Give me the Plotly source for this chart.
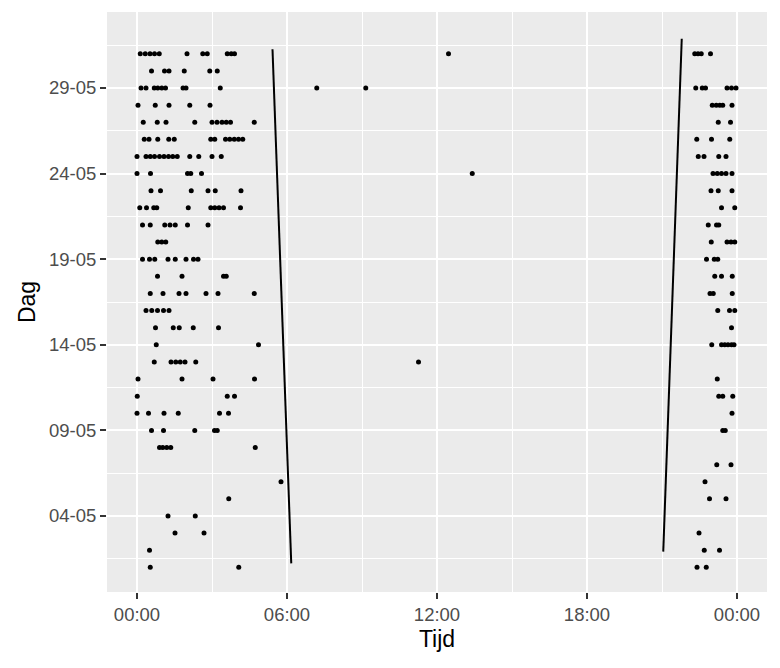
import plotly.graph_objects as go

# ---- data ----
dagen = list(range(1, 32))
uren = [
    [0.53, 4.07, 22.40, 22.77],
    [0.50, 22.69, 23.30],
    [1.52, 2.68, 22.48],
    [1.24, 2.33],
    [3.67, 22.90, 23.56],
    [5.76, 22.72],
    [23.19, 23.76],
    [0.90, 1.03, 1.19, 1.35, 4.73],
    [0.58, 1.06, 2.31, 3.10, 3.21, 23.43, 23.53],
    [0.00, 0.46, 1.08, 1.65, 3.30, 3.66, 23.80],
    [0.01, 3.61, 3.90, 23.27, 23.43, 23.83],
    [0.04, 1.80, 3.04, 4.70, 23.21],
    [0.69, 1.36, 1.55, 1.73, 1.92, 2.35, 11.26],
    [0.77, 4.86, 22.99, 23.38, 23.51, 23.64, 23.78, 23.88],
    [0.74, 1.45, 1.69, 2.25, 3.26, 23.78],
    [0.36, 0.59, 0.82, 1.06, 1.28, 23.23, 23.70, 23.91],
    [0.53, 1.04, 1.68, 1.96, 2.76, 3.24, 4.69, 22.92, 23.05, 23.81],
    [0.82, 1.80, 3.46, 3.57, 23.11, 23.38, 23.81],
    [0.22, 0.50, 0.71, 1.24, 1.53, 1.96, 2.26, 2.44, 22.78, 23.09, 23.23],
    [0.83, 0.99, 1.15, 22.97, 23.60, 23.76, 23.91],
    [0.22, 0.53, 1.11, 1.32, 1.53, 2.02, 2.84, 22.85, 23.18, 23.27],
    [0.11, 0.38, 0.67, 0.79, 2.05, 2.95, 3.11, 3.28, 3.46, 4.14, 23.38, 23.91],
    [0.56, 0.94, 2.17, 2.84, 3.13, 4.16, 22.96, 23.25, 23.80],
    [0.00, 0.54, 2.02, 2.15, 2.58, 13.41, 23.04, 23.21, 23.38, 23.56, 23.80],
    [0.00, 0.36, 0.53, 0.70, 0.90, 1.08, 1.26, 1.43, 1.61, 2.11, 2.47, 3.00, 3.37,
     22.45, 22.68, 23.27, 23.56],
    [0.29, 0.48, 0.83, 1.27, 1.49, 2.95, 3.11, 3.54, 3.71, 3.89, 4.06, 4.23,
     22.39, 22.98, 23.71],
    [0.25, 0.81, 1.16, 2.31, 3.00, 3.20, 3.40, 3.57, 3.74, 4.69, 23.25, 23.74],
    [0.04, 0.73, 1.28, 2.11, 2.92, 23.01, 23.17, 23.31, 23.43, 23.80],
    [0.16, 0.36, 0.69, 0.83, 0.99, 1.14, 1.84, 1.96, 3.33, 7.19, 9.15,
     22.35, 22.61, 22.74, 23.60, 23.78, 23.96],
    [0.58, 1.10, 1.28, 1.89, 2.91, 3.21],
    [0.13, 0.33, 0.52, 0.70, 0.89, 2.00, 2.63, 2.81, 3.61, 3.77, 3.90, 12.46,
     22.31, 22.44, 22.57, 22.94],
]

zon_op_uur = [6.17, 5.42]
zon_op_dag = [1.23, 31.26]
zon_onder_uur = [21.05, 21.79]
zon_onder_dag = [1.92, 31.88]

x_tickvals = [0, 6, 12, 18, 24]
x_ticktext = ["00:00", "06:00", "12:00", "18:00", "00:00"]
y_tickvals = [4, 9, 14, 19, 24, 29]
y_ticktext = ["04-05", "09-05", "14-05", "19-05", "24-05", "29-05"]

# ---- build ----
px_, py_ = [], []
for d, hs in zip(dagen, uren):
    for h in hs:
        px_.append(h)
        py_.append(d)

fig = go.Figure()
fig.add_trace(go.Scatter(x=zon_op_uur, y=zon_op_dag, mode="lines",
                         line=dict(color="black", width=2), showlegend=False))
fig.add_trace(go.Scatter(x=zon_onder_uur, y=zon_onder_dag, mode="lines",
                         line=dict(color="black", width=2), showlegend=False))
fig.add_trace(go.Scatter(x=px_, y=py_, mode="markers",
                         marker=dict(color="black", size=5), showlegend=False))

axis_font = dict(family="Liberation Sans, Arial, sans-serif", size=18.5, color="#4D4D4D")
title_font = dict(family="Liberation Sans, Arial, sans-serif", size=23, color="black")

fig.update_layout(
    width=780, height=668,
    margin=dict(l=99, r=21, t=4, b=84),
    paper_bgcolor="white",
    plot_bgcolor="#EBEBEB",
    xaxis=dict(
        range=[-1.2, 25.2], tickvals=x_tickvals, ticktext=x_ticktext,
        showgrid=True, gridcolor="white", gridwidth=2, zeroline=False,
        ticks="outside", ticklen=6, tickwidth=2, tickcolor="#333333",
        tickfont=axis_font, showline=False,
        title=dict(text="Tijd", font=title_font, standoff=6),
        minor=dict(tickvals=[3, 9, 15, 21], showgrid=True, gridcolor="white",
                   gridwidth=1, ticks=""),
    ),
    yaxis=dict(
        range=[-0.44, 33.44], tickvals=y_tickvals, ticktext=y_ticktext,
        showgrid=True, gridcolor="white", gridwidth=2, zeroline=False,
        ticks="outside", ticklen=6, tickwidth=2, tickcolor="#333333",
        tickfont=axis_font, showline=False,
        title=dict(text="Dag", font=title_font, standoff=6),
        minor=dict(tickvals=[1.5, 6.5, 11.5, 16.5, 21.5, 26.5, 31.5], showgrid=True,
                   gridcolor="white", gridwidth=1, ticks=""),
    ),
)

fig.write_html("out.html")
